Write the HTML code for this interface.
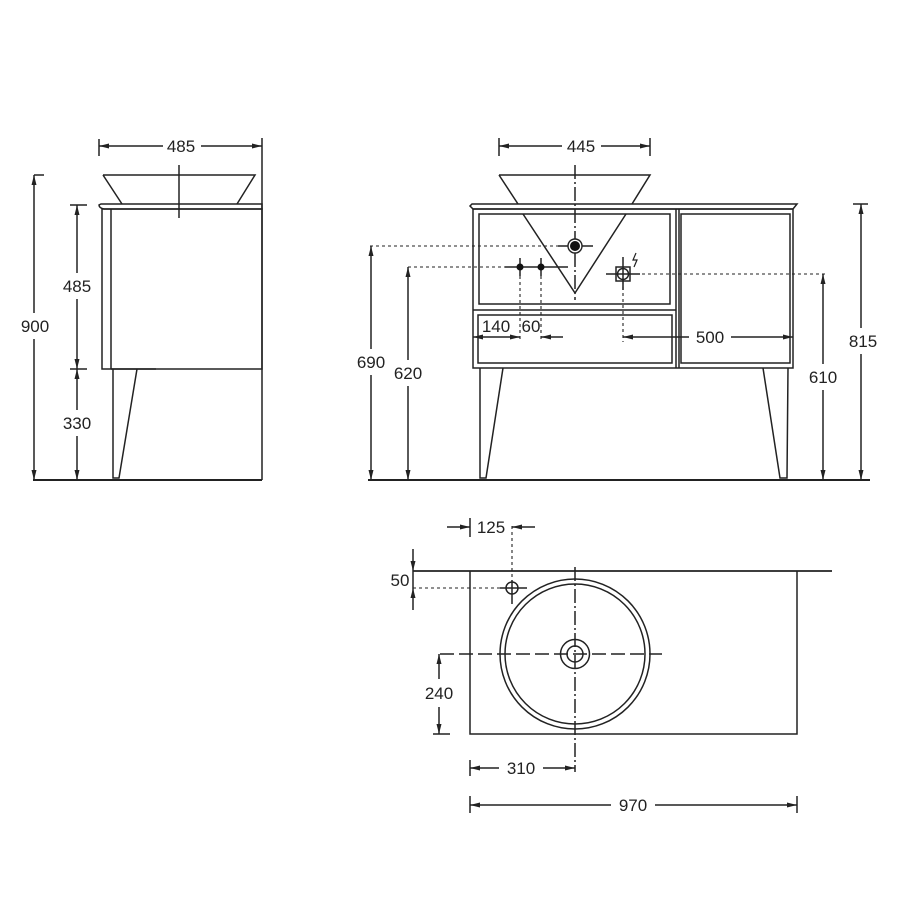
<!DOCTYPE html>
<html><head><meta charset="utf-8"><style>
html,body{margin:0;padding:0;background:#fff}
svg{display:block}
text{font-family:"Liberation Sans",sans-serif;font-size:17px;fill:#222}
</style></head><body>
<svg width="900" height="900" viewBox="0 0 900 900" xmlns="http://www.w3.org/2000/svg">
<defs>
<marker id="a" viewBox="0 0 10 6" refX="10" refY="3" markerWidth="10" markerHeight="6" markerUnits="userSpaceOnUse" orient="auto-start-reverse">
<path d="M0,0.5 L10,3 L0,5.5z" fill="#222"/></marker>
</defs>
<g stroke="#222" stroke-width="1.5" fill="none">
<!-- SIDE VIEW -->
<line x1="99" y1="139" x2="99" y2="156"/>
<line x1="262" y1="138" x2="262" y2="480"/>
<line x1="99" y1="146" x2="163" y2="146" marker-start="url(#a)"/>
<line x1="201" y1="146" x2="262" y2="146" marker-end="url(#a)"/>
<path d="M103,175 L255,175 L237,204 M103,175 L122,204"/>
<line x1="179" y1="165" x2="179" y2="218"/>
<path d="M101,204 L262,204 L262,209 L104,209 Q99,208 99,205z"/>
<rect x="102" y="209" width="160" height="160"/>
<line x1="111" y1="209" x2="111" y2="369"/>
<path d="M113,369 L113,478 L119,478 L137,369"/>
<line x1="111" y1="369" x2="156" y2="369"/>
<line x1="33" y1="480" x2="262" y2="480" stroke-width="1.9"/>
<line x1="34" y1="175" x2="44" y2="175"/>
<line x1="34" y1="175" x2="34" y2="313" marker-start="url(#a)"/>
<line x1="34" y1="339" x2="34" y2="480" marker-end="url(#a)"/>
<line x1="70" y1="205" x2="87" y2="205"/>
<line x1="77" y1="205" x2="77" y2="273" marker-start="url(#a)"/>
<line x1="77" y1="299" x2="77" y2="369" marker-end="url(#a)"/>
<line x1="70" y1="369" x2="87" y2="369"/>
<line x1="77" y1="369" x2="77" y2="410" marker-start="url(#a)"/>
<line x1="77" y1="436" x2="77" y2="480" marker-end="url(#a)"/>

<!-- FRONT VIEW -->
<line x1="499" y1="138" x2="499" y2="156"/>
<line x1="650" y1="138" x2="650" y2="156"/>
<line x1="499" y1="146" x2="562" y2="146" marker-start="url(#a)"/>
<line x1="601" y1="146" x2="650" y2="146" marker-end="url(#a)"/>
<path d="M499,175 L650,175 L632,204 M499,175 L518,204"/>
<path d="M472,204 L797,204 L793,209 L473,209 L470,206z"/>
<rect x="473" y="209" width="320" height="159"/>
<line x1="676" y1="209" x2="676" y2="368"/>
<line x1="679" y1="209" x2="679" y2="368"/>
<rect x="479" y="214" width="191" height="90"/>
<line x1="473" y1="310" x2="676" y2="310"/>
<rect x="478" y="315" width="194" height="48"/>
<rect x="681" y="214" width="109" height="149"/>
<path d="M523,214 L575,293 L626,214"/>
<line x1="575" y1="165" x2="575" y2="300" stroke-dasharray="14,3,2,3"/>
<line x1="558" y1="246" x2="593" y2="246"/>
<line x1="505" y1="267" x2="568" y2="267"/>
<line x1="520" y1="258" x2="520" y2="276"/>
<line x1="541" y1="258" x2="541" y2="276"/>
<line x1="606" y1="274" x2="640" y2="274"/>
<line x1="623" y1="257" x2="623" y2="290"/>
<rect x="616" y="267" width="14" height="14"/>
<circle cx="623" cy="274" r="5.5"/>
<path d="M636,253 L633,260 L637,260 L634,267" stroke-width="1.2"/>
<g stroke-dasharray="3,3" stroke-width="1.1">
<line x1="370" y1="246" x2="560" y2="246"/>
<line x1="408" y1="267" x2="506" y2="267"/>
<line x1="630" y1="274" x2="825" y2="274"/>
<line x1="520" y1="276" x2="520" y2="342"/>
<line x1="541" y1="276" x2="541" y2="342"/>
<line x1="623" y1="281" x2="623" y2="342"/>
</g>
<line x1="473" y1="337" x2="520" y2="337" marker-start="url(#a)" marker-end="url(#a)"/>
<line x1="541" y1="337" x2="563" y2="337" marker-start="url(#a)"/>
<line x1="623" y1="337" x2="689" y2="337" marker-start="url(#a)"/>
<line x1="731" y1="337" x2="793" y2="337" marker-end="url(#a)"/>
<path d="M480,368 L480,478 L486,478 L503,368"/>
<path d="M763,368 L780,478 L787,478 L788,368"/>
<line x1="368" y1="480" x2="870" y2="480" stroke-width="1.9"/>
<line x1="371" y1="246" x2="371" y2="349" marker-start="url(#a)"/>
<line x1="371" y1="375" x2="371" y2="480" marker-end="url(#a)"/>
<line x1="408" y1="267" x2="408" y2="360" marker-start="url(#a)"/>
<line x1="408" y1="386" x2="408" y2="480" marker-end="url(#a)"/>
<line x1="823" y1="274" x2="823" y2="364" marker-start="url(#a)"/>
<line x1="823" y1="390" x2="823" y2="480" marker-end="url(#a)"/>
<line x1="853" y1="204" x2="868" y2="204"/>
<line x1="861" y1="204" x2="861" y2="328" marker-start="url(#a)"/>
<line x1="861" y1="354" x2="861" y2="480" marker-end="url(#a)"/>

<!-- PLAN VIEW -->
<line x1="413" y1="571" x2="832" y2="571" stroke-width="1.8"/>
<path d="M470,571 L470,734 L797,734 L797,571"/>
<circle cx="575" cy="654" r="75"/>
<circle cx="575" cy="654" r="70"/>
<circle cx="575" cy="654" r="14.5"/>
<circle cx="575" cy="654" r="8"/>
<circle cx="512" cy="588" r="6"/>
<line x1="500" y1="588" x2="527" y2="588"/>
<line x1="512" y1="580" x2="512" y2="604"/>
<line x1="440" y1="654" x2="662" y2="654" stroke-dasharray="14,5"/>
<line x1="575" y1="567" x2="575" y2="772" stroke-dasharray="14,3,2,3"/>
<g stroke-dasharray="3,3" stroke-width="1.1">
<line x1="512" y1="526" x2="512" y2="580"/>
<line x1="413" y1="588" x2="500" y2="588"/>
</g>
<line x1="470" y1="518" x2="470" y2="537"/>
<line x1="447" y1="527" x2="470" y2="527" marker-end="url(#a)"/>
<line x1="535" y1="527" x2="512" y2="527" marker-end="url(#a)"/>
<line x1="413" y1="549" x2="413" y2="571" marker-end="url(#a)"/>
<line x1="413" y1="610" x2="413" y2="588" marker-end="url(#a)"/>
<line x1="413" y1="571" x2="413" y2="588"/>
<line x1="433" y1="734" x2="450" y2="734"/>
<line x1="439" y1="654" x2="439" y2="679" marker-start="url(#a)"/>
<line x1="439" y1="707" x2="439" y2="734" marker-end="url(#a)"/>
<line x1="470" y1="760" x2="470" y2="776"/>
<line x1="470" y1="768" x2="499" y2="768" marker-start="url(#a)"/>
<line x1="543" y1="768" x2="575" y2="768" marker-end="url(#a)"/>
<line x1="470" y1="796" x2="470" y2="813"/>
<line x1="797" y1="796" x2="797" y2="813"/>
<line x1="470" y1="805" x2="611" y2="805" marker-start="url(#a)"/>
<line x1="655" y1="805" x2="797" y2="805" marker-end="url(#a)"/>
</g>
<circle cx="575" cy="246" r="7" fill="#fff" stroke="#222" stroke-width="1.4"/>
<circle cx="575" cy="246" r="5" fill="#111"/>
<circle cx="520" cy="267" r="3.5" fill="#111"/>
<circle cx="541" cy="267" r="3.5" fill="#111"/>
<g text-anchor="middle">
<text x="181" y="152">485</text>
<text x="581" y="152">445</text>
<text x="35" y="332">900</text>
<text x="77" y="292">485</text>
<text x="77" y="429">330</text>
<text x="371" y="368">690</text>
<text x="408" y="379">620</text>
<text x="823" y="383">610</text>
<text x="863" y="347">815</text>
<text x="496" y="332">140</text>
<text x="531" y="332">60</text>
<text x="710" y="343">500</text>
<text x="491" y="533">125</text>
<text x="400" y="586">50</text>
<text x="439" y="699">240</text>
<text x="521" y="774">310</text>
<text x="633" y="811">970</text>
</g>
</svg>
</body></html>
